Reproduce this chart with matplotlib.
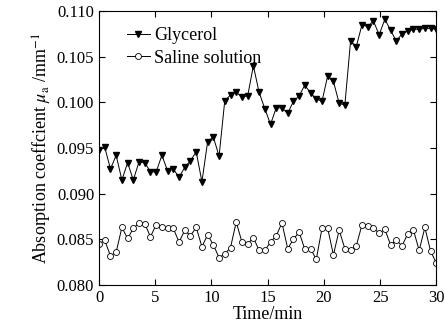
import numpy as np
import matplotlib
matplotlib.use('Agg')
import matplotlib.pyplot as plt

plt.rcParams['font.family'] = ['Liberation Serif', 'DejaVu Serif']
plt.rcParams['mathtext.fontset'] = 'stix'

# time axis: 60 samples over 0-30 min
time_min = np.linspace(0, 30, 60)

glycerol = [0.0948, 0.0951, 0.0927, 0.0942, 0.0915, 0.0934, 0.0915, 0.0935, 0.0934, 0.0924,
            0.0924, 0.0942, 0.0925, 0.0927, 0.0918, 0.0929, 0.0936, 0.0946, 0.0913, 0.0957,
            0.0962, 0.0941, 0.1002, 0.1008, 0.1011, 0.1006, 0.1007, 0.1040, 0.1011, 0.0993,
            0.0976, 0.0994, 0.0994, 0.0988, 0.1001, 0.1007, 0.1019, 0.1010, 0.1004, 0.1001,
            0.1029, 0.1023, 0.0999, 0.0997, 0.1067, 0.1061, 0.1085, 0.1083, 0.1089, 0.1074,
            0.1091, 0.1079, 0.1067, 0.1075, 0.1078, 0.1080, 0.1080, 0.1081, 0.1081, 0.1080]

saline = [0.0845, 0.0849, 0.0832, 0.0836, 0.0863, 0.0851, 0.0862, 0.0868, 0.0867, 0.0853,
          0.0866, 0.0863, 0.0862, 0.0862, 0.0847, 0.0860, 0.0854, 0.0863, 0.0842, 0.0855,
          0.0844, 0.0830, 0.0834, 0.0841, 0.0869, 0.0847, 0.0845, 0.0852, 0.0838, 0.0838,
          0.0847, 0.0854, 0.0868, 0.0840, 0.0850, 0.0858, 0.0839, 0.0840, 0.0828, 0.0862,
          0.0862, 0.0833, 0.0860, 0.0840, 0.0838, 0.0843, 0.0866, 0.0865, 0.0862, 0.0857,
          0.0861, 0.0844, 0.0849, 0.0843, 0.0856, 0.0860, 0.0838, 0.0863, 0.0837, 0.0824]

xticks = [0, 5, 10, 15, 20, 25, 30]
yticks = [0.080, 0.085, 0.090, 0.095, 0.100, 0.105, 0.110]

fig = plt.figure(figsize=(4.45, 3.33), dpi=100)
ax = fig.add_axes([0.2225, 0.144, 0.758, 0.823])

ax.plot(time_min, glycerol, color='black', linewidth=0.7, marker='v',
        markersize=5, markerfacecolor='black', label='Glycerol')
ax.plot(time_min, saline, color='black', linewidth=0.7, marker='o',
        markersize=4.3, markerfacecolor='white', markeredgewidth=0.6, label='Saline solution')

ax.set_xlim(0, 30)
ax.set_ylim(0.080, 0.110)
ax.set_xticks(xticks)
ax.set_yticks(yticks)
ax.set_yticklabels(['%.3f' % v for v in yticks])
ax.tick_params(direction='in', top=True, right=True, labelsize=12, length=4, width=0.8)

ax.set_xlabel('Time/min', fontsize=13, labelpad=0)
ax.set_ylabel(r'Absorption coeffcient $\mu_{\rm a}$ /mm$^{-1}$', fontsize=13, labelpad=2)

ax.legend(loc='upper left', frameon=False, fontsize=13, handlelength=1.3,
          handletextpad=0.2, labelspacing=0.3, borderaxespad=0.2,
          bbox_to_anchor=(0.05, 0.98))

fig.savefig('out.png', dpi=100)
